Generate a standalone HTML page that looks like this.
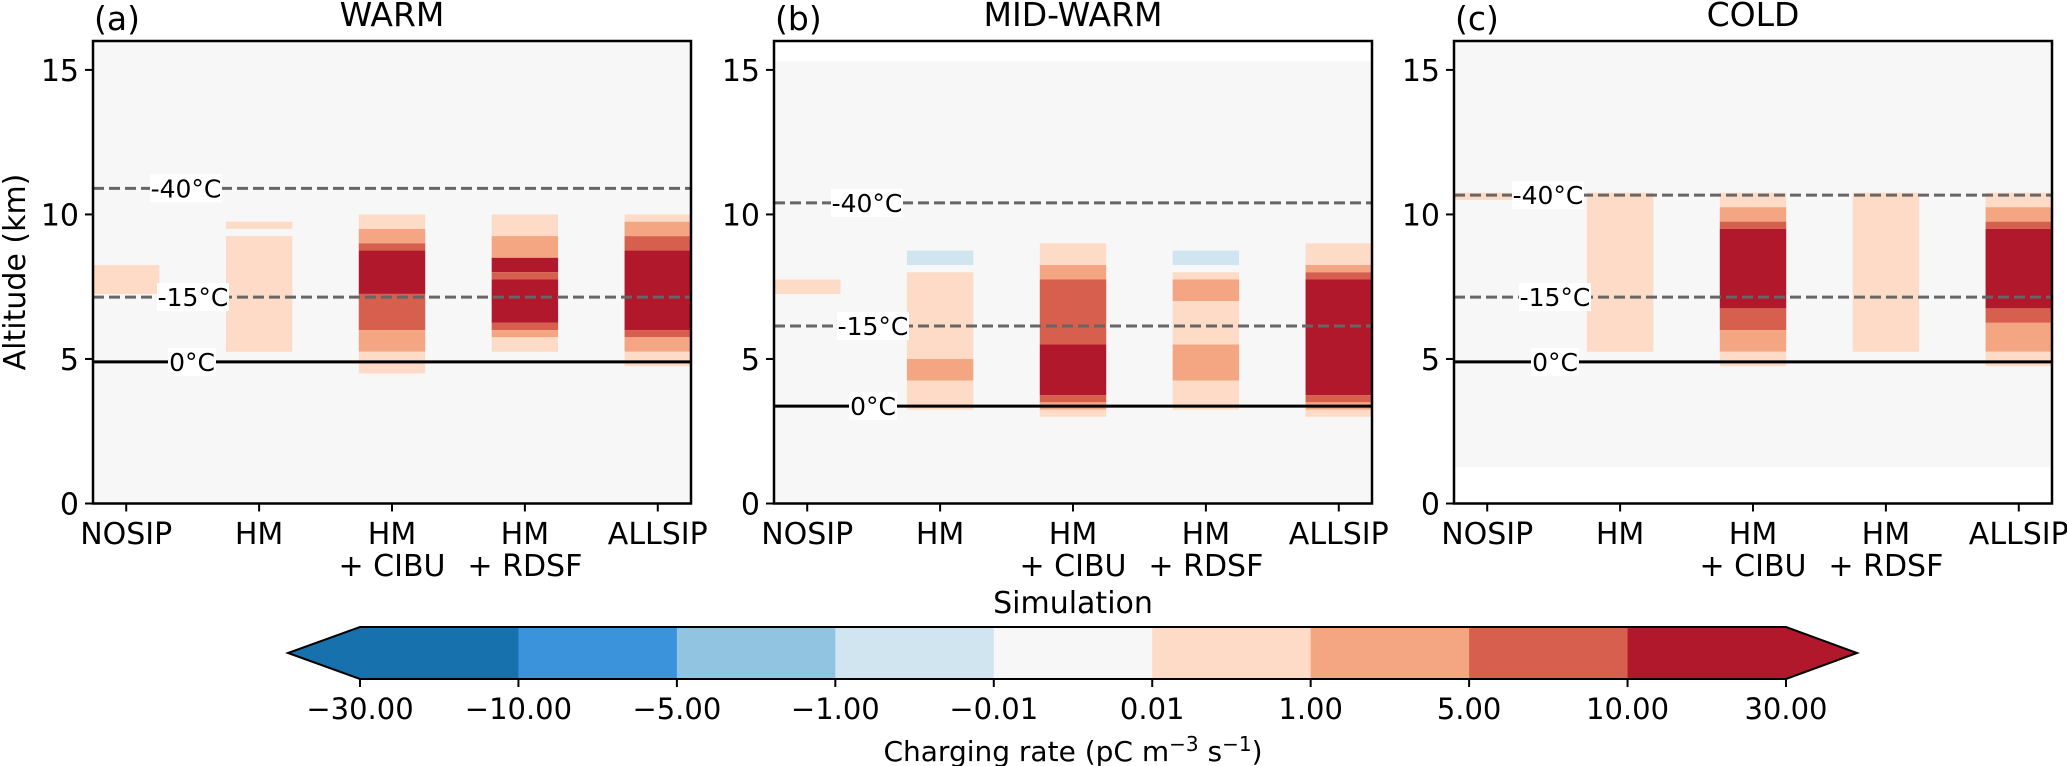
<!DOCTYPE html>
<html><head><meta charset="utf-8"><style>
html,body{margin:0;padding:0;background:#fff}
svg{display:block;font-family:"DejaVu Sans","Liberation Sans",sans-serif}
</style></head><body>
<svg id="chart" width="2067" height="766" viewBox="0 0 2067 766" xmlns="http://www.w3.org/2000/svg"></svg>
<script>
// ---- data ----
const categories = ["NOSIP","HM","HM\n+ CIBU","HM\n+ RDSF","ALLSIP"];
const levelColors = ["#1771ad","#3b93db","#91c4e1","#d1e5f0","#f7f7f7","#fddbc7","#f4a582","#d6604d","#b2182b"];
const cbarTicks = ["\u221230.00","\u221210.00","\u22125.00","\u22121.00","\u22120.01","0.01","1.00","5.00","10.00","30.00"];
const yTicks = [0,5,10,15];
const panelTitles = ["WARM","MID-WARM","COLD"];
const panelLetters = ["(a)","(b)","(c)"];
// background (neutral) extent [bottom, top] km
const bgExtent = [[0,16],[0,15.3],[1.25,16]];
// isotherm altitudes km: [-40, -15, 0]
const isoWarm = [10.9, 7.14, 4.9];
const isoMid = [10.4, 6.14, 3.37];
const isoCold = [10.67, 7.14, 4.9];
// segments: [category index, bottom km, top km, level index]
const segWarm = [
 [0,7.25,8.25,5],
 [1,9.5,9.75,5],[1,5.25,9.25,5],
 [2,9.5,10,5],[2,9,9.5,6],[2,8.75,9,7],[2,7.25,8.75,8],[2,6,7.25,7],[2,5.25,6,6],[2,4.5,5.25,5],
 [3,9.25,10,5],[3,8.5,9.25,6],[3,8,8.5,8],[3,7.75,8,7],[3,6.25,7.75,8],[3,6,6.25,7],[3,5.75,6,6],[3,5.25,5.75,5],
 [4,9.75,10,5],[4,9.25,9.75,6],[4,8.75,9.25,7],[4,6,8.75,8],[4,5.75,6,7],[4,5.25,5.75,6],[4,4.75,5.25,5]
];
const segMid = [
 [0,7.25,7.75,5],
 [1,8.25,8.75,3],[1,5,8,5],[1,4.25,5,6],[1,3.25,4.25,5],
 [2,8.25,9,5],[2,7.75,8.25,6],[2,5.5,7.75,7],[2,3.75,5.5,8],[2,3.5,3.75,7],[2,3.25,3.5,6],[2,3,3.25,5],
 [3,8.25,8.75,3],[3,7.75,8,5],[3,7,7.75,6],[3,5.5,7,5],[3,4.25,5.5,6],[3,3.25,4.25,5],
 [4,8.25,9,5],[4,8,8.25,6],[4,7.75,8,7],[4,3.75,7.75,8],[4,3.5,3.75,7],[4,3.25,3.5,6],[4,3,3.25,5]
];
const segCold = [
 [0,10.5,10.75,5],
 [1,5.25,10.75,5],
 [2,10.25,10.75,5],[2,9.75,10.25,6],[2,9.5,9.75,7],[2,6.75,9.5,8],[2,6,6.75,7],[2,5.25,6,6],[2,4.75,5.25,5],
 [3,5.25,10.75,5],
 [4,10.25,10.75,5],[4,9.75,10.25,6],[4,9.5,9.75,7],[4,6.75,9.5,8],[4,6.25,6.75,7],[4,5.25,6.25,6],[4,4.75,5.25,5]
];
const panelSegs = [segWarm, segMid, segCold];
const panelIsos = [isoWarm, isoMid, isoCold];
const isoLabels = ["-40\u00b0C","-15\u00b0C","0\u00b0C"];

// ---- layout ----
const NS = "http://www.w3.org/2000/svg";
const svg = document.getElementById("chart");
const axTop = 41, axBottom = 503.5, yMax = 16;
const panelLeft = [93, 774, 1454];
const panelW = 598;
const labelX = [[186,193,192],[867,873,873],[1548,1555,1555]];
function mk(tag, attrs, parent){const e=document.createElementNS(NS,tag);for(const k in attrs)e.setAttribute(k,attrs[k]);(parent||svg).appendChild(e);return e;}
function yScale(v){return axBottom - v*(axBottom-axTop)/yMax;}
function xScale(p,v){return panelLeft[p] + (v+0.25)*panelW/4.5;}

for(let p=0;p<3;p++){
  const g = mk("g",{});
  
  
  const L = panelLeft[p], R = L+panelW;
  const bg = mk("rect",{x:L,y:yScale(bgExtent[p][1]),width:panelW,height:yScale(bgExtent[p][0])-yScale(bgExtent[p][1]),fill:levelColors[4]},g);
  
  
  panelSegs[p].forEach(s=>{
    const x0=xScale(p,s[0]-0.25), x1=xScale(p,s[0]+0.25);
    const r = mk("rect",{x:x0,y:yScale(s[2]),width:x1-x0,height:yScale(s[1])-yScale(s[2]),fill:levelColors[s[3]]},g);
    
    
  });
  panelIsos[p].forEach((alt,i)=>{
    const y=yScale(alt);
    const ln = mk("line",{x1:L,x2:R,y1:y,y2:y,stroke:i==2?"#000":"#666","stroke-width":3,"stroke-dasharray":i==2?"none":"11 5"},g);
    
    
    const w = i==2?48:72, cx=labelX[p][i];
    const bx = mk("rect",{x:cx-w/2,y:y-14,width:w,height:28,fill:"#fff"},g);
    
    
    const t = mk("text",{x:cx,y:y+9,"text-anchor":"middle","font-size":25,fill:"#000"},g);
    t.textContent = isoLabels[i];
    
    
  });
  const fr = mk("rect",{x:L,y:axTop,width:panelW,height:axBottom-axTop,fill:"none",stroke:"#000","stroke-width":2.5},g);
  
  
  yTicks.forEach(v=>{
    const y=yScale(v);
    const tk = mk("line",{x1:L-8,x2:L,y1:y,y2:y,stroke:"#000","stroke-width":2},g);
    
    
    const t = mk("text",{x:L-14,y:y+11,"text-anchor":"end","font-size":30},g);
    t.textContent = v;
    
    
  });
  categories.forEach((c,i)=>{
    const x=xScale(p,i);
    const tk = mk("line",{x1:x,x2:x,y1:axBottom,y2:axBottom+8,stroke:"#000","stroke-width":2},g);
    
    
    c.split("\n").forEach((line,j)=>{
      const t = mk("text",{x:x,y:544+j*32,"text-anchor":"middle","font-size":30},g);
      t.textContent=line;
      
      
    });
  });
  const ti = mk("text",{x:L+panelW/2,y:26,"text-anchor":"middle","font-size":33},g);
  ti.textContent = panelTitles[p];
  
  
  const le = mk("text",{x:L+1,y:30,"font-size":33},g);
  le.textContent = panelLetters[p];
  
  
}
const yl = mk("text",{x:0,y:0,"text-anchor":"middle","font-size":30,transform:"translate(25,272) rotate(-90)"});
yl.textContent="Altitude (km)";


const xl = mk("text",{x:1073,y:613,"text-anchor":"middle","font-size":30});
xl.textContent="Simulation";



// ---- colorbar ----
const cbL=360, cbR=1786, cbT=627, cbB=679, tipL=288, tipR=1857;
const segW=(cbR-cbL)/(cbarTicks.length-1);
const cb = mk("g",{});


const la = mk("polygon",{points:`${cbL},${cbT} ${tipL},${(cbT+cbB)/2} ${cbL},${cbB}`,fill:levelColors[0]},cb);


const ra = mk("polygon",{points:`${cbR},${cbT} ${tipR},${(cbT+cbB)/2} ${cbR},${cbB}`,fill:levelColors[8]},cb);


for(let i=0;i<cbarTicks.length-1;i++){
  const r = mk("rect",{x:cbL+i*segW,y:cbT,width:segW+0.5,height:cbB-cbT,fill:levelColors[i]},cb);
  
  
}
const ol = mk("polygon",{points:`${cbL},${cbT} ${cbR},${cbT} ${tipR},${(cbT+cbB)/2} ${cbR},${cbB} ${cbL},${cbB} ${tipL},${(cbT+cbB)/2}`,fill:"none",stroke:"#000","stroke-width":2},cb);


cbarTicks.forEach((lab,i)=>{
  const x=cbL+i*segW;
  const tk = mk("line",{x1:x,x2:x,y1:cbB,y2:cbB+8,stroke:"#000","stroke-width":2},cb);
  
  
  const t = mk("text",{x:x,y:719,"text-anchor":"middle","font-size":29},cb);
  t.textContent=lab;
  
  
});
const cl = mk("text",{x:1073,y:761,"text-anchor":"middle","font-size":28},cb);
cl.innerHTML = 'Charging rate (pC m<tspan dy="-10" font-size="20">\u22123</tspan><tspan dy="10"> s</tspan><tspan dy="-10" font-size="20">\u22121</tspan><tspan dy="10">)</tspan>';


</script>
</body></html>
